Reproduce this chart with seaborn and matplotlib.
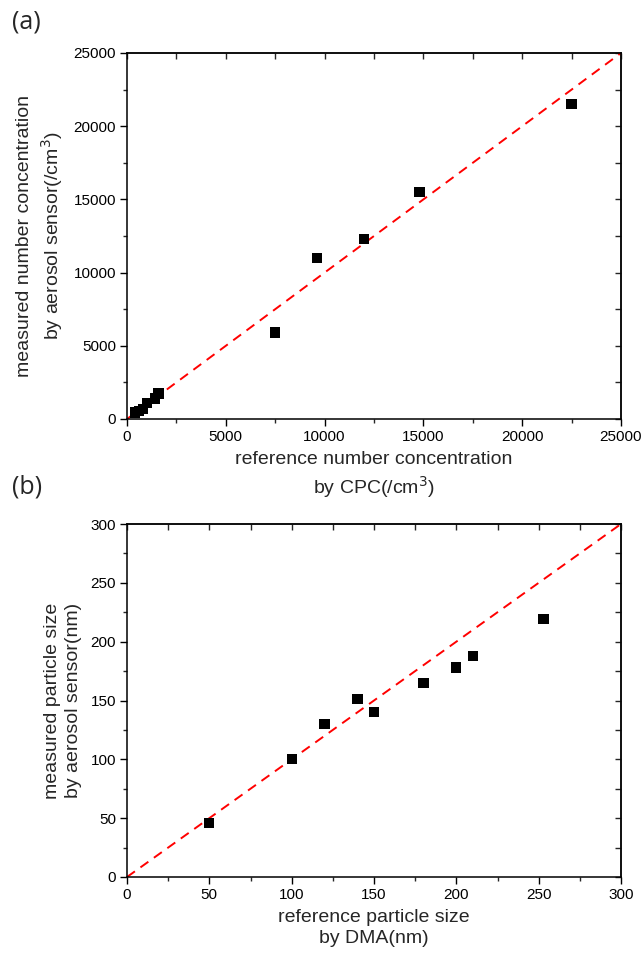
import matplotlib
matplotlib.use("Agg")
import matplotlib.pyplot as plt
import seaborn as sns
import pandas as pd
from matplotlib.ticker import MultipleLocator

# ---- data (a) ----
cpc_ref = [400, 600, 800, 1000, 1400, 1600, 7500, 9600, 12000, 14800, 22500]
sensor_conc = [450, 550, 700, 1100, 1400, 1750, 5900, 11000, 12300, 15500, 21500]
diag_a = [0, 25000]
# ---- data (b) ----
dma_ref = [50, 100, 120, 140, 150, 180, 200, 210, 253]
sensor_size = [46, 100, 130, 151, 140, 165, 178, 188, 219]
diag_b = [0, 300]

sns.set_theme(style="ticks")
plt.rcParams['font.family'] = ['Liberation Sans', 'DejaVu Sans']

fig = plt.figure(figsize=(6.42, 9.67), dpi=100)
ax_a = fig.add_axes([127/642, (967-419)/967, 494/642, 366/967])
ax_b = fig.add_axes([127/642, (967-877)/967, 494/642, 353/967])


def style(ax, lim, major, minor):
    ax.set_xlim(0, lim)
    ax.set_ylim(0, lim)
    ax.xaxis.set_major_locator(MultipleLocator(major))
    ax.yaxis.set_major_locator(MultipleLocator(major))
    ax.xaxis.set_minor_locator(MultipleLocator(minor))
    ax.yaxis.set_minor_locator(MultipleLocator(minor))
    for s in ax.spines.values():
        s.set_linewidth(1.1)
        s.set_color('black')
        s.set_visible(True)
    ax.tick_params(which='major', direction='out', length=5, width=1.0,
                   labelsize=11, colors='black', pad=3)
    ax.tick_params(which='minor', direction='out', length=3, width=1.0)
    top = ax.secondary_xaxis('top')
    right = ax.secondary_yaxis('right')
    for sec in (top, right):
        sec.tick_params(which='both', direction='in', length=4, width=1.0,
                        labelsize=0)
    top.xaxis.set_major_locator(MultipleLocator(major))
    top.xaxis.set_minor_locator(MultipleLocator(minor))
    right.yaxis.set_major_locator(MultipleLocator(major))
    right.yaxis.set_minor_locator(MultipleLocator(minor))
    top.set_xticklabels([])
    right.set_yticklabels([])
    for sec in (top, right):
        for s in sec.spines.values():
            s.set_linewidth(1.1)


df_a = pd.DataFrame({'x': cpc_ref, 'y': sensor_conc})
sns.lineplot(x=diag_a, y=diag_a, ax=ax_a, color='red', linestyle=(0, (5, 3.5)),
             linewidth=1.4, zorder=2)
sns.scatterplot(data=df_a, x='x', y='y', ax=ax_a, marker='s', color='black',
                s=55, edgecolor='none', zorder=3)
style(ax_a, 25000, 5000, 2500)
ax_a.set_xlabel('reference number concentration\nby CPC(/cm$^3$)', fontsize=14,
                linespacing=1.3, labelpad=5)
ax_a.set_ylabel('measured number concentration\nby aerosol sensor(/cm$^3$)', fontsize=14,
                linespacing=1.3, labelpad=6)

df_b = pd.DataFrame({'x': dma_ref, 'y': sensor_size})
sns.lineplot(x=diag_b, y=diag_b, ax=ax_b, color='red', linestyle=(0, (5, 3.5)),
             linewidth=1.4, zorder=2)
sns.scatterplot(data=df_b, x='x', y='y', ax=ax_b, marker='s', color='black',
                s=55, edgecolor='none', zorder=3)
style(ax_b, 300, 50, 25)
ax_b.set_xlabel('reference particle size\nby DMA(nm)', fontsize=14,
                linespacing=1.3, labelpad=5)
ax_b.set_ylabel('measured particle size\nby aerosol sensor(nm)', fontsize=14,
                linespacing=1.3, labelpad=6)

fig.text(12/642, 1 - 22/967, '(a)', fontsize=18, va='center', ha='left',
         family=['Open Sans', 'DejaVu Sans'])
fig.text(12/642, 1 - 487/967, '(b)', fontsize=18, va='center', ha='left',
         family=['Open Sans', 'DejaVu Sans'])

fig.savefig('out.png', dpi=100)
